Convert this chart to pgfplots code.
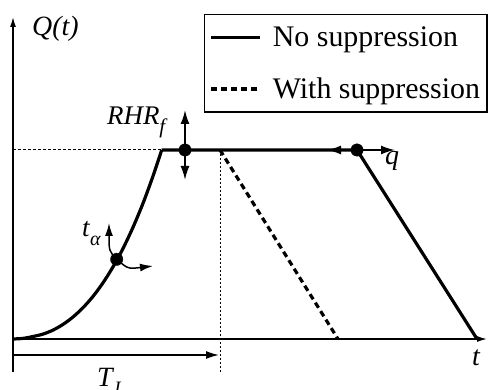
\documentclass[border=0pt]{standalone}
\usepackage{pgfplots}
\pgfplotsset{compat=1.18}
\usepackage{fontspec}
\setmainfont{Liberation Serif}
\usetikzlibrary{arrows.meta}
\begin{document}
\begin{tikzpicture}
\begin{axis}[
  scale only axis, width=474bp, height=355bp,
  xmin=0, xmax=474, ymin=-33, ymax=322,
  axis lines=middle,
  axis line style={line width=1.4bp, -{Latex[length=10bp,width=6bp]}},
  ticks=none, clip=false,
  legend cell align=left,
  legend style={at={(axis cs:191,325)}, anchor=north west,
    draw=black, line width=1.4bp,
    font=\fontsize{30}{34}\selectfont,
    inner xsep=5bp, inner ysep=10bp, row sep=26bp},
  legend image code/.code={\draw[#1] (0bp,0bp) -- (49bp,0bp); \path (58bp,0bp);},
]
% plateau and decay, no suppression
\addplot[line width=3.2bp, black] coordinates {(148.7,189) (344,189) (464,0)};
\addlegendentry{No suppression}
% decay with suppression
\addplot[line width=3.2bp, black, dash pattern=on 6bp off 4bp] coordinates {(207,189) (325,0)};
\addlegendentry{With suppression}
% growth phase
\addplot[line width=3.2bp, black, smooth, forget plot] coordinates {
  (0,0) (10,0.6) (20,2.5) (30,4.9) (40,8.9) (50,14.6) (60,22) (70,31.3) (80,42.6)
  (90,56.2) (100,72.1) (110,90.5) (120,111.7) (130,135.7) (140,162.9) (148.7,189)};
% guide lines
\addplot[line width=1bp, black, dash pattern=on 3bp off 2bp, forget plot] coordinates {(0,189) (148.7,189)};
\addplot[line width=1bp, black, dash pattern=on 2bp off 2bp, forget plot] coordinates {(207,189) (207,-33)};
% parameter points
\addplot[only marks, mark=*, mark size=6.2bp, black, forget plot] coordinates {(103.7,79.7) (172,189) (344,189)};

\begin{scope}[line width=1.8bp, -{Latex[length=14bp,width=9bp]}]
\draw (axis cs:172,189) -- (axis cs:172,229);
\draw (axis cs:172,189) -- (axis cs:172,159);
\draw (axis cs:344,189) -- (axis cs:314,189);
\draw (axis cs:344,189) -- (axis cs:382,189);
\end{scope}
\begin{scope}[line width=1.5bp, -{Latex[length=13bp,width=8bp]}]
\draw (axis cs:0,-16) -- (axis cs:206,-16);
\draw (axis cs:103.7,79.7) .. controls (axis cs:96,88) .. (axis cs:96,116);
\draw (axis cs:103.7,79.7) .. controls (axis cs:115,70) .. (axis cs:140,73);
\end{scope}

\node[anchor=base west, inner sep=0] at (axis cs:19,303) {\fontsize{28}{30}\selectfont\textit{Q(t)}};
\node[anchor=base west, inner sep=0] at (axis cs:94,214) {\fontsize{27}{30}\selectfont\textit{RHR}\raisebox{-0.3em}{\fontsize{21}{22}\selectfont\textit{f}}};
\node[anchor=base west, inner sep=0] at (axis cs:69,102) {\fontsize{27}{30}\selectfont\textit{t}\raisebox{-0.3em}{\fontsize{20}{22}\selectfont\textit{α}}};
\node[anchor=base west, inner sep=0] at (axis cs:84,-47) {\fontsize{28}{30}\selectfont\textit{T}\raisebox{-0.3em}{\fontsize{19}{20}\selectfont\textit{I}}};
\node[anchor=base west, inner sep=0] at (axis cs:459,-26) {\fontsize{28}{30}\selectfont\textit{t}};
\node[anchor=base west, inner sep=0] at (axis cs:372,174) {\fontsize{28}{30}\selectfont\textit{q}};

\coordinate (bl) at (axis cs:-13,-51);
\coordinate (tr) at (axis cs:475,339);
\end{axis}
\pgfresetboundingbox
\useasboundingbox (bl) rectangle (tr);
\end{tikzpicture}
\end{document}
